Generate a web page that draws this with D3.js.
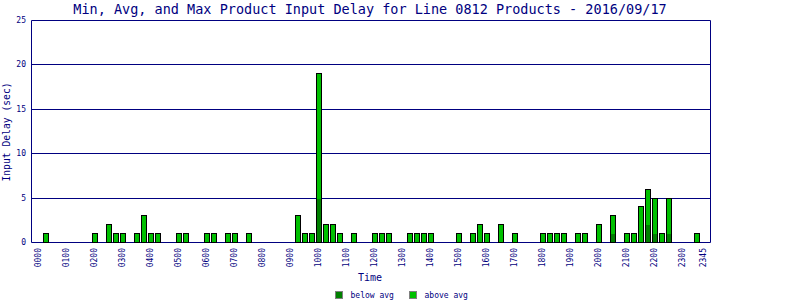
<!DOCTYPE html>
<html>
<head>
<meta charset="utf-8">
<script src="https://cdn.jsdelivr.net/npm/d3@7"></script>
<style>
  body { margin: 0; background: #fff; }
  text { font-family: "DejaVu Sans Mono", monospace; fill: #000080; }
</style>
</head>
<body>
<div id="chart"></div>
<script>
// 15 minute slots, only the ones that had a bar
const times = ["0015","0200","0230","0245","0300","0330","0345","0400","0415","0500","0515","0600","0615","0645","0700","0730",
  "0915","0930","0945","1000","1015","1030","1045","1115","1200","1215","1230","1315","1330","1345","1400",
  "1500","1530","1545","1600","1630","1700","1800","1815","1830","1845","1915","1930","2000","2030",
  "2100","2115","2130","2145","2200","2215","2230","2330"];
const belowAvg = [0,0,0,0,0,0,0,0,0,0,0,0,0,0,0,0,
  0,0,0,5,0,0,0,0,0,0,0,0,0,0,0,
  0,0,0,0,0,0,0,0,0,0,0,0,0,1,
  0,0,0,2,1,0,1,0];
const totals = [1,1,2,1,1,1,3,1,1,1,1,1,1,1,1,1,
  3,1,1,19,2,2,1,1,1,1,1,1,1,1,1,
  1,1,2,1,2,1,1,1,1,1,1,1,2,3,
  1,1,4,6,5,1,5,1];
const tickLabels = ["0000","0100","0200","0300","0400","0500","0600","0700","0800","0900","1000","1100",
  "1200","1300","1400","1500","1600","1700","1800","1900","2000","2100","2200","2300","2345"];
const yTicks = [0,5,10,15,20,25];

const width = 800, height = 300;
const navy = "#000080";

// every quarter hour of the day
const slots = [];
for (let h = 0; h < 24; h++) for (let m = 0; m < 60; m += 15)
  slots.push(String(h).padStart(2,"0") + String(m).padStart(2,"0"));

const svg = d3.select("#chart").append("svg")
  .attr("width", width).attr("height", height);

const x = d3.scaleBand().domain(slots).range([34.2, 706.5]);
const y = d3.scaleLinear().domain([0, 25]).range([242, 20]);

const left = 31.5, right = 710.5;

// grid lines
svg.selectAll(".grid").data(yTicks).enter().append("line")
  .attr("x1", left).attr("x2", right)
  .attr("y1", d => Math.round(y(d)) + 0.5).attr("y2", d => Math.round(y(d)) + 0.5)
  .attr("stroke", navy).attr("stroke-width", 1);

// frame sides
svg.append("line").attr("x1", left).attr("x2", left).attr("y1", 20.5).attr("y2", 242.5)
  .attr("stroke", navy);
svg.append("line").attr("x1", right).attr("x2", right).attr("y1", 20.5).attr("y2", 242.5)
  .attr("stroke", navy);

// y labels
svg.selectAll(".ylab").data(yTicks).enter().append("text")
  .attr("x", 26).attr("y", d => y(d) + 3)
  .attr("text-anchor", "end").attr("font-size", "8px")
  .text(d => d);

// bars
const bx = d => Math.floor(x(d) + 2.2);
const bars = svg.selectAll(".bar").data(times).enter().append("g");
bars.append("rect")
  .attr("x", d => bx(d) + 0.5)
  .attr("y", (d, i) => Math.round(y(totals[i])) + 0.5)
  .attr("width", 5)
  .attr("height", (d, i) => Math.round(y(0)) - Math.round(y(totals[i])))
  .attr("fill", "#00c000").attr("stroke", "#000").attr("stroke-width", 1);
bars.filter((d, i) => belowAvg[i] > 0).append("rect")
  .attr("x", d => bx(d) + 1)
  .attr("y", d => Math.round(y(belowAvg[times.indexOf(d)])) + 1)
  .attr("width", 4)
  .attr("height", d => Math.round(y(0)) - Math.round(y(belowAvg[times.indexOf(d)])) - 1)
  .attr("fill", "#008000");

// x tick labels
svg.selectAll(".xlab").data(tickLabels).enter().append("text")
  .attr("transform", d => "translate(" + (x(d) + x.bandwidth() / 2 + 3) + ",248) rotate(-90)")
  .attr("text-anchor", "end").attr("font-size", "8px")
  .text(d => d);

// titles
svg.append("text").attr("x", 370).attr("y", 14).attr("text-anchor", "middle")
  .attr("font-size", "13.5px").text("Min, Avg, and Max Product Input Delay for Line 0812 Products - 2016/09/17");
svg.append("text").attr("x", 370).attr("y", 281).attr("text-anchor", "middle")
  .attr("font-size", "10px").text("Time");
svg.append("text").attr("transform", "translate(10,132) rotate(-90)").attr("text-anchor", "middle")
  .attr("font-size", "9.7px").text("Input Delay (sec)");

// legend
const legend = [{name: "below avg", color: "#008000", x: 335.5}, {name: "above avg", color: "#00c000", x: 409.5}];
const lg = svg.selectAll(".lg").data(legend).enter().append("g");
lg.append("rect").attr("x", d => d.x).attr("y", 291.5).attr("width", 7).attr("height", 7)
  .attr("fill", d => d.color).attr("stroke", "#808080");
lg.append("text").attr("x", d => d.x + 15).attr("y", 298).attr("font-size", "8px")
  .text(d => d.name);
</script>
</body>
</html>
